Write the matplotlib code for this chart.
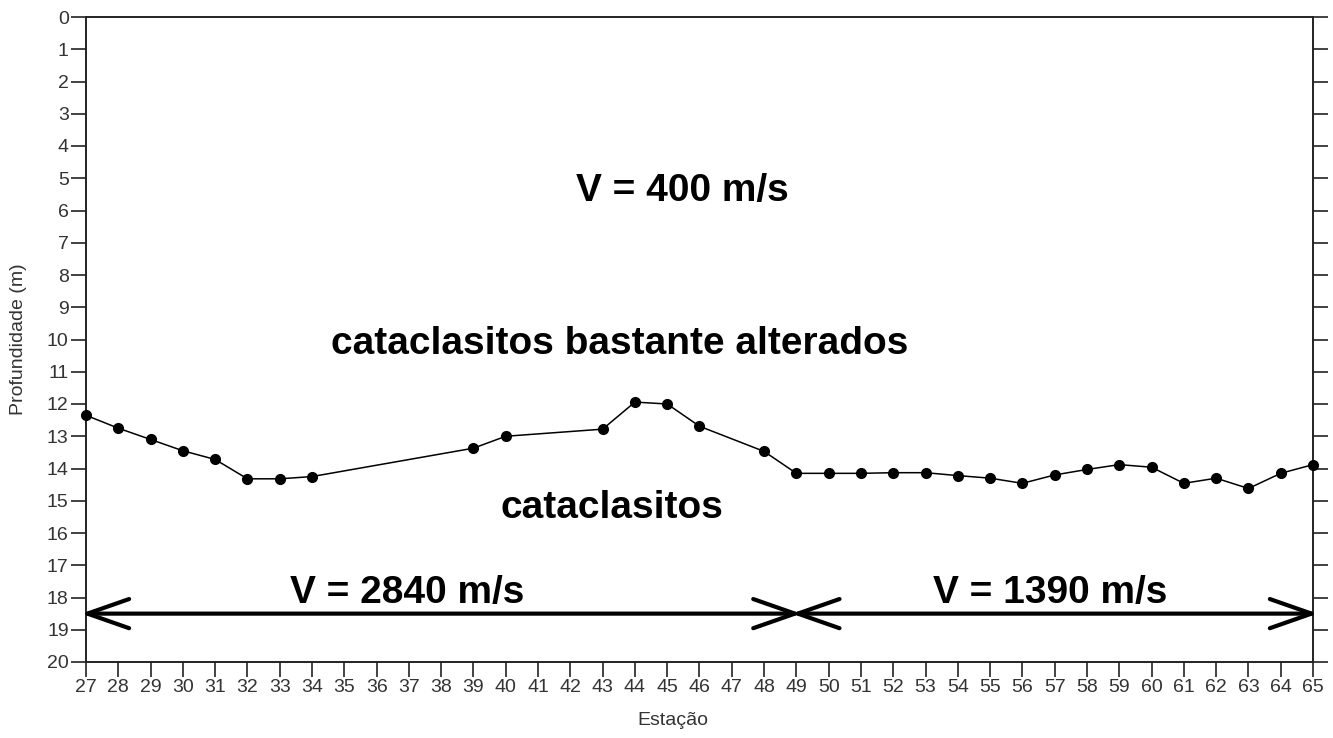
import numpy as np
import matplotlib
matplotlib.use("Agg")
import matplotlib.pyplot as plt

plt.rcParams['font.family'] = ['Liberation Sans', 'DejaVu Sans']

# perfil sismico: profundidade do refrator por estacao
estacoes = [27, 28, 29, 30, 31, 32, 33, 34, 39, 40, 43, 44, 45, 46, 48,
            49, 50, 51, 52, 53, 54, 55, 56, 57, 58, 59, 60, 61, 62, 63, 64, 65]
profundidade = [12.35, 12.75, 13.10, 13.45, 13.72, 14.32, 14.32, 14.25, 13.37, 13.00,
                12.78, 11.94, 12.00, 12.69, 13.47,
                14.15, 14.15, 14.15, 14.13, 14.13, 14.22, 14.30, 14.46, 14.20, 14.03,
                13.88, 13.96, 14.46, 14.30, 14.62, 14.15, 13.88]

xticks = list(range(27, 66))
yticks = list(range(0, 21))

# trechos de velocidade da camada inferior (inicio, fim, rotulo, x do rotulo)
trechos = [(27, 49, 'V = 2840 m/s', 36.95), (49, 65, 'V = 1390 m/s', 56.85)]
prof_seta = 18.5
ajuste = 0.15   # compensa o recuo da ponta da seta causado pela espessura

fig = plt.figure(figsize=(13.33, 7.38), dpi=100)
ax = fig.add_axes([86/1333, 1 - 662/738, (1313 - 86)/1333, (662 - 17)/738])

ax.plot(estacoes, profundidade, color='black', lw=1.1, marker='o', ms=7,
        mfc='black', mec='black', zorder=3, clip_on=False)

for x0, x1, rot, xr in trechos:
    ax.annotate('', xy=(x0 - ajuste, prof_seta), xytext=(x1 + ajuste, prof_seta),
                arrowprops=dict(arrowstyle='<->,head_length=3.0,head_width=1.05',
                                lw=3.0, color='black', shrinkA=0, shrinkB=0,
                                mutation_scale=10),
                annotation_clip=False)
    ax.text(xr, 18.16, rot, ha='center', va='baseline', fontsize=28, fontweight='bold')

ax.text(45.46, 5.69, 'V = 400 m/s', ha='center', va='baseline',
        fontsize=28, fontweight='bold')
ax.text(43.54, 10.45, 'cataclasitos bastante alterados', ha='center', va='baseline',
        fontsize=28, fontweight='bold')
ax.text(43.29, 15.55, 'cataclasitos', ha='center', va='baseline',
        fontsize=28, fontweight='bold')

ax.set_xlim(27, 65)
ax.set_ylim(20, 0)
ax.set_xticks(xticks)
ax.set_yticks(yticks)
ax.tick_params(axis='both', direction='out', length=10.5, width=1.2, color='#222222',
               labelsize=14, labelcolor='#333333', pad=2)
ax.tick_params(axis='y', right=True, labelright=False)
for s in ax.spines.values():
    s.set_linewidth(1.4)
    s.set_color('#222222')

ax.set_xlabel('Estação', fontsize=14, color='#333333')
ax.xaxis.set_label_coords((673 - 86) / 1227, -0.078)
ax.set_ylabel('Profundidade (m)', fontsize=14, color='#333333')
ax.yaxis.set_label_coords(-0.048, 0.5)

fig.savefig('out.png', dpi=100)
